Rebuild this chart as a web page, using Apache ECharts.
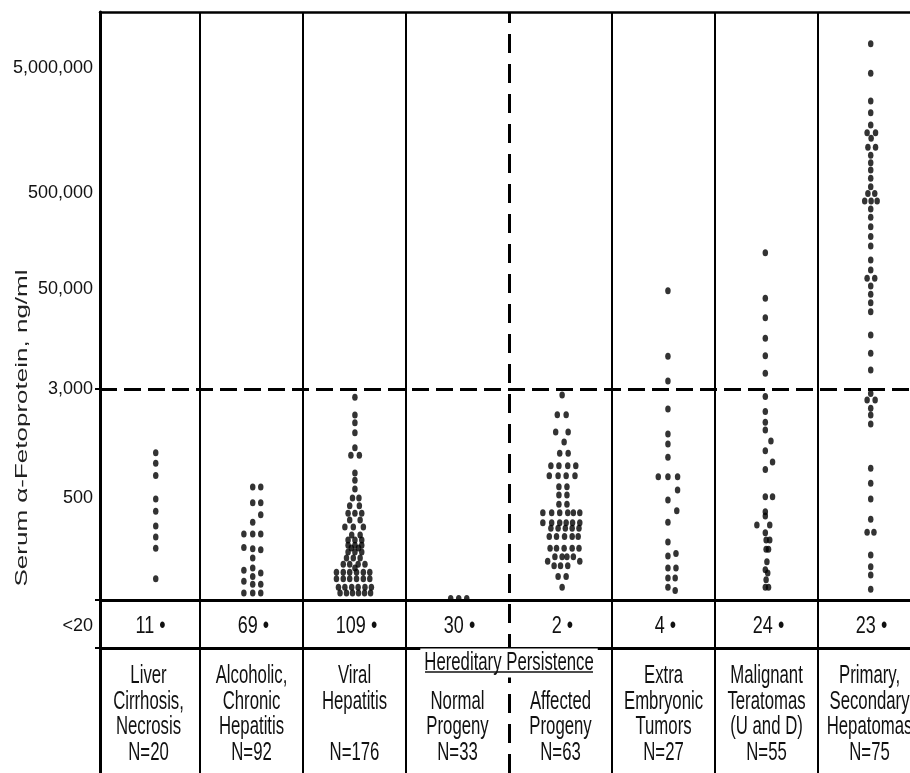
<!DOCTYPE html>
<html>
<head>
<meta charset="utf-8">
<script src="https://cdn.jsdelivr.net/npm/echarts@6/dist/echarts.min.js"></script>
<style>
  html, body { margin: 0; padding: 0; background: #fff; }
  #chart { width: 910px; height: 773px; }
</style>
</head>
<body>
<div id="chart"></div>
<script>
// ---- data (serum AFP, ng/ml) ----
const groupLines = [
  ['Liver', 'Cirrhosis,', 'Necrosis'],
  ['Alcoholic,', 'Chronic', 'Hepatitis'],
  ['Viral', 'Hepatitis', ''],
  ['', 'Normal', 'Progeny'],
  ['', 'Affected', 'Progeny'],
  ['Extra', 'Embryonic', 'Tumors'],
  ['Malignant', 'Teratomas', '(U and D)'],
  ['Primary,', 'Secondary', 'Hepatomas']
];
const nTotals = [20, 92, 176, 33, 63, 27, 55, 75];
const belowCounts = [11, 69, 109, 30, 2, 4, 24, 23];   // values < 20

const tickValues = [5000000, 500000, 50000, 3000, 500];
const tickLabels = ['5,000,000', '500,000', '50,000', '3,000', '500'];
const cutoffValue = 3000;

// each dot: [horizontal slot in the swarm, value]
const liverDots = [[0.9,1050],[0.9,885],[0.9,725],[0.9,485],[0.9,330],[0.9,207],[0.9,146],[0.9,102],[0.9,39]];
const alcoholicDots = [[0.15,600],[1.15,600],[0.15,430],[1.15,430],[1.15,295],[0.15,232],
  [-0.95,160],[0.15,160],[1.15,160],[-0.95,105],[0.15,101],[1.15,98],[0.15,75],[0.15,55],[-0.95,51],[1.15,47],
  [0.15,42],[-0.95,36],[0.15,33],[1.15,33],[-0.95,25],[0.15,25],[1.15,25]];
const viralDots = [
  [0.05,2620],[0.05,1960],[0.05,1720],[0.05,1460],[0.05,1140],
  [-0.45,1010],[0.6,1010],
  [0.05,755],[0.05,670],[0.05,580],
  [-0.25,500],[0.55,500],
  [-0.6,390],[0.6,390],
  [-0.8,310],[0.05,310],[0.9,310],
  [-0.6,250],[0.7,250],
  [-1.2,200],[-0.15,200],[1.1,200],
  [-0.35,156],[0.7,156],
  [-0.8,133],[0.05,133],[0.9,133],
  [-0.8,113],[0.05,113],[0.9,113],
  [-0.4,103],[0.5,103],
  [-0.8,91],[0.05,91],[0.9,91],
  [-1,75],[-0.15,75],[0.7,75],
  [-1.4,62],[-0.6,62],[0.45,62],[1.3,62],
  [0.05,55],
  [-2.25,48],[-1.4,48],[-0.6,48],[0.25,48],[1.1,48],[1.9,48],
  [-2.25,39],[-1.4,39],[-0.6,39],[0.25,39],[1.1,39],[1.9,39],
  [-2,30],[-1.2,30],[-0.35,30],[0.45,30],[1.3,30],[2.1,30],
  [-1.8,25],[-1,25],[-0.25,25],[0.5,25],[1.25,25],[2,25]
];
const normalDots = [[-0.85,21],[0.15,21],[1.15,21]];
const affectedDots = [
  [0.2,2720],
  [-0.4,1965],[0.7,1965],
  [-0.6,1480],[0.95,1480],
  [0.45,1255],
  [-0.1,1045],[0.95,1045],
  [-1.2,850],[-0.2,850],[0.9,850],[1.9,850],
  [-1.4,722],[-0.3,722],[0.7,722],[1.8,722],
  [-0.2,602],[0.8,602],
  [-0.2,525],[0.8,525],
  [-0.2,410],[0.8,410],
  [-2.2,314],[-1.1,314],[-0.1,314],[0.9,314],[1.6,314],[2.4,314],
  [-2.2,229],[-1.1,229],[-0.1,229],[0.7,229],[1.5,229],[2.4,229],
  [-1.2,192],[-0.3,192],[0.6,192],[1.45,192],[2.3,192],
  [-1.4,148],[-0.5,148],[0.5,148],[1.45,148],[2.2,148],
  [-1.3,102],[-0.5,102],[0.45,102],[1.45,102],[2.3,102],
  [-0.7,78],[0.2,78],[0.8,78],[1.6,78],
  [-1.6,68],[2.4,68],
  [-0.8,59],[0,59],[0.9,59],
  [-0.3,42],[0.7,42],
  [0.2,30]
];
const extraDots = [
  [0.55,47700],[0.55,7530],[0.55,3760],[0.55,2160],[0.55,1430],[0.55,1215],[0.55,975],
  [-0.65,710],[0.55,710],[1.75,710],
  [1.75,570],[0.55,470],[1.65,335],[0.55,232],[0.55,125],[1.55,87],[0.55,80],
  [0.55,55],[1.55,55],[0.55,40],[1.45,40],[0.55,30],[1.45,27]
];
const teratomaDots = [
  [-0.15,119000],[-0.15,38500],[-0.15,22300],[-0.15,12500],[-0.15,7650],[-0.15,4670],
  [-0.15,2650],[-0.15,2070],[-0.15,1735],[-0.15,1530],[0.55,1275],[-0.15,1085],[0.75,905],[-0.15,800],
  [-0.15,510],[0.75,510],[-0.15,325],[-0.15,283],[-1.2,213],[0.4,213],[-0.15,167],
  [-0.05,133],[0.4,133],[-0.05,99],[0.25,99],[0.05,67],[-0.15,52],[0.15,47],[-0.05,38],[-0.15,30],[0.25,30]
];
const hepatomaDots = [
  [0.15,7800000],[0.15,4540000],[0.15,2720000],[0.15,2190000],[0.15,1750000],
  [-0.3,1520000],[0.75,1520000],[0.2,1370000],[-0.2,1160000],[0.75,1160000],
  [0.15,1000000],[0.15,873000],[0.15,764000],[0.15,656000],[0.15,561000],
  [-0.2,495000],[0.65,495000],[-0.6,413000],[0.2,413000],[0.95,413000],
  [0.15,341000],[0.15,280000],[0.15,223000],[0.15,176000],[0.15,140000],[0.15,100000],[0.15,79000],
  [-0.3,64600],[0.65,64600],[0.15,53800],[0.15,43000],[0.15,34000],[0.15,26400],
  [0.15,13700],[0.15,8190],[0.15,5120],[0.15,2790],[-0.3,2500],[0.7,2500],[0.15,2185],[0.15,1957],[0.15,1690],
  [0.15,815],[0.15,637],[0.15,484],[0.15,255],[-0.3,169],[0.55,169],[0.15,83],[0.15,57],[0.15,44],[0.15,28]
];

// ---- the figure's broken log scale: value anchors -> axis units ----
const SCALE_VALUES = [20, 500, 3000, 50000, 500000, 5000000];
const SCALE_POS = [48, 150, 259, 359, 455, 580];
function toT(v) {
  const lv = Math.log10(v);
  const L = SCALE_VALUES.map(Math.log10);
  let k = 0;
  while (k < L.length - 2 && lv > L[k + 1]) k++;
  return SCALE_POS[k] + (lv - L[k]) / (L[k + 1] - L[k]) * (SCALE_POS[k + 1] - SCALE_POS[k]);
}

// table rows (axis units below the plot)
const ROW_T = 22;          // "<20" row
const HEADER_T = -15;
const UNDERLINE_T = -24;
const LINE_T = [-28, -54, -79, -105];
const SLOT = 0.078;
const SQUEEZE = 0.67;
const FONT = '"Liberation Sans", Arial, sans-serif';

const dotGroups = [liverDots, alcoholicDots, viralDots, normalDots, affectedDots, extraDots, teratomaDots, hepatomaDots];
const dots = [];
dotGroups.forEach((g, i) => g.forEach(([s, v]) => dots.push([i + s * SLOT, toT(v)])));

const labelPos = tickValues.map(toT).concat([ROW_T]);
const labelText = tickLabels.concat(['<20']);

function renderTable(params, api) {
  const i = params.dataIndex;
  const cx = api.coord([i, 0])[0];
  const y = t => api.coord([i, t])[1];
  const txt = (s, x, t, size, sq, extra) => ({
    type: 'text', x: x, y: y(t), scaleX: sq,
    style: Object.assign({
      text: s, font: size + 'px ' + FONT, fill: '#111',
      textAlign: 'center', textVerticalAlign: 'middle',
      align: 'center', verticalAlign: 'middle'
    }, extra || {})
  });
  const kids = [txt(belowCounts[i] + ' \u2022', cx + 2, ROW_T, 24, 0.75)];
  groupLines[i].forEach((s, k) => { if (s) kids.push(txt(s, cx, LINE_T[k], 25, SQUEEZE)); });
  kids.push(txt('N=' + nTotals[i], cx, LINE_T[3], 25, SQUEEZE));
  if (i === 3) {
    const hx = api.coord([3.5, 0])[0];
    kids.push(txt('Hereditary Persistence', hx, HEADER_T, 25, SQUEEZE, { backgroundColor: '#fff', padding: [2, 6] }));
    kids.push({
      type: 'line',
      shape: { x1: hx - 84, y1: y(UNDERLINE_T), x2: hx + 84, y2: y(UNDERLINE_T) },
      style: { stroke: '#111', lineWidth: 1.5 }
    });
  }
  return { type: 'group', children: kids };
}

const solid = w => ({ color: '#000', type: 'solid', width: w });
const markLines = [0.5, 1.5, 2.5, 4.5, 5.5, 6.5].map(x => ({ xAxis: x, lineStyle: solid(2) }))
  .concat([
    { xAxis: 3.5, lineStyle: { color: '#000', type: [19, 11], width: 3 } },
    { yAxis: toT(20), lineStyle: solid(3) },
    { yAxis: 0, lineStyle: solid(3) },
    { yAxis: toT(cutoffValue), lineStyle: { color: '#000', type: [17, 7], width: 3 } }
  ]);

const chart = echarts.init(document.getElementById('chart'));
chart.setOption({
  animation: false,
  backgroundColor: '#fff',
  grid: { left: 100, right: 0, top: 12, bottom: 0 },
  xAxis: {
    type: 'value', min: -0.471, max: 7.393, position: 'top',
    axisLine: { onZero: false, lineStyle: { color: '#000', width: 2.5 } },
    axisTick: { show: false }, axisLabel: { show: false }, splitLine: { show: false }
  },
  yAxis: {
    type: 'value', min: -125, max: 636,
    axisLine: { show: true, onZero: false, lineStyle: { color: '#000', width: 3 } },
    axisTick: { show: true, customValues: [toT(cutoffValue), toT(20), 0], length: 5, lineStyle: { color: '#000', width: 2 } },
    axisLabel: {
      customValues: labelPos,
      formatter: v => {
        const k = labelPos.findIndex(p => Math.abs(p - v) < 0.01);
        return k >= 0 ? labelText[k] : '';
      },
      fontSize: 18, fontFamily: FONT,
      color: '#111', margin: 7
    },
    splitLine: { show: false }
  },
  graphic: [{
    type: 'text', x: 22, y: 428, rotation: Math.PI / 2, scaleY: SQUEEZE,
    style: {
      text: 'Serum \u03b1-Fetoprotein, ng/ml', font: '26px ' + FONT, fill: '#222',
      textAlign: 'center', textVerticalAlign: 'middle', align: 'center', verticalAlign: 'middle'
    }
  }],
  series: [
    {
      type: 'scatter', name: 'AFP', data: dots, z: 3,
      symbol: 'circle', symbolSize: [5.5, 7],
      itemStyle: { color: '#000' },
      markLine: { silent: true, z: 1, symbol: ['none', 'none'], label: { show: false }, data: markLines }
    },
    {
      type: 'custom', name: 'table', z: 6, silent: true,
      data: nTotals.map((n, i) => [i, n]),
      renderItem: renderTable
    }
  ]
});
</script>
</body>
</html>
